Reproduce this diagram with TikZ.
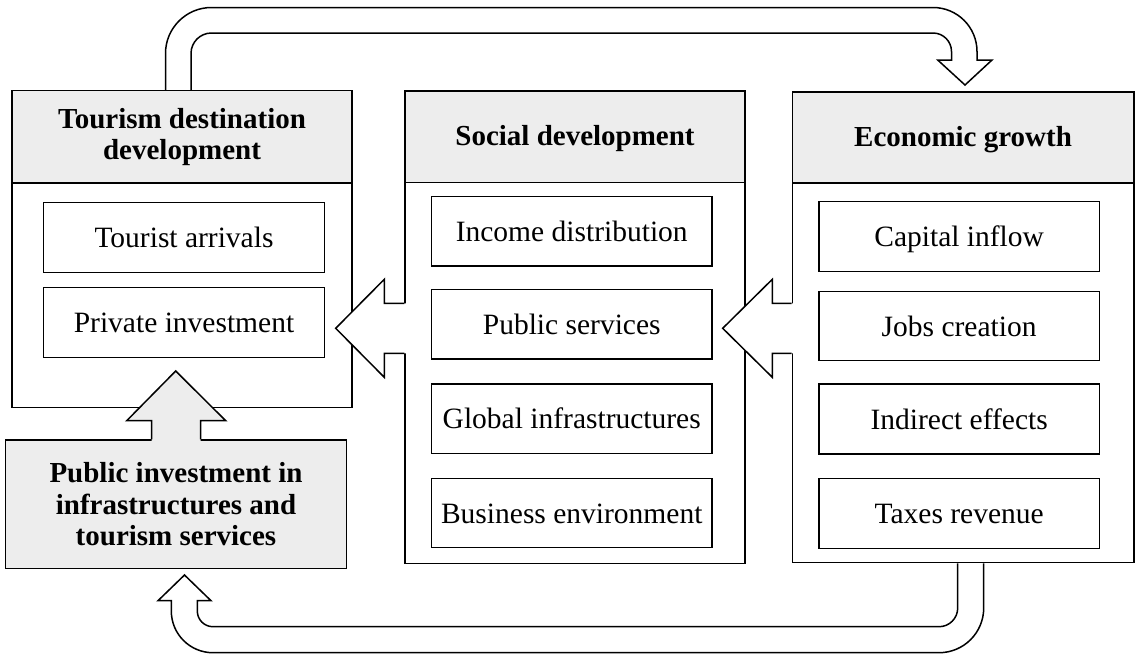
\documentclass[tikz,border=0pt]{standalone}
\usepackage{fontspec}
\setmainfont{Liberation Serif}
\definecolor{headgray}{HTML}{EDEDED}
\tikzset{
  lw/.style={line width=1.5pt},
  sz/.style 2 args={minimum width=#1pt, minimum height=#2pt},
  panel/.style={lw, draw=black, fill=white, inner sep=0pt},
  headbox/.style={lw, draw=black, fill=headgray, inner sep=0pt, align=center,
    font=\fontsize{29}{31.5}\selectfont\bfseries},
  onehead/.style={headbox, text height=18.4pt, text depth=0pt},
  itembox/.style={lw, draw=black, fill=white, inner sep=0pt,
    text height=20.4pt, text depth=0pt, font=\fontsize{29.5}{34}\selectfont},
  flowline/.style={lw, draw=black, line join=miter},
}
\begin{document}
\begin{tikzpicture}[x=1pt,y=-1pt]
\useasboundingbox (0,0) rectangle (1135,654);

% ---- tourism destination development ----
\node[panel, sz={340}{317}] (tdd) at (182,249.2) {};
\node[headbox, sz={340}{92.3}] (tddh) at (182,136.85) {Tourism destination\\development};
\node[itembox, sz={280.6}{69.6}] (arr) at (184,237.5) {Tourist arrivals};
\node[itembox, sz={280.6}{70}] (priv) at (184,322.7) {Private investment};

% ---- social development ----
\node[panel, sz={340}{472.3}] (soc) at (575,327.15) {};
\node[onehead, sz={340}{91.3}] (soch) at (575,136.65) {Social development};
\node[itembox, sz={280.5}{69.3}] (inc) at (571.75,231.35) {Income distribution};
\node[itembox, sz={280.5}{69.3}] (pubs) at (571.75,324.35) {Public services};
\node[itembox, sz={280.5}{69.3}] (glob) at (571.75,418.65) {Global infrastructures};
\node[itembox, sz={280.5}{69.4}] (bus) at (571.75,513) {Business environment};

% ---- economic growth ----
\node[panel, sz={341.5}{470.7}] (eco) at (963.05,327.35) {};
\node[onehead, sz={341.5}{91}] (ecoh) at (963.05,137.5) {Economic growth};
\node[itembox, sz={280.3}{70}] (cap) at (959.15,236.7) {Capital inflow};
\node[itembox, sz={280.3}{69}] (jobs) at (959.15,326.2) {Jobs creation};
\node[itembox, sz={280.3}{70}] (ind) at (959.15,419) {Indirect effects};
\node[itembox, sz={280.3}{70}] (tax) at (959.15,513.3) {Taxes revenue};

% ---- public investment ----
\node[headbox, sz={341.4}{128.7}] (pub) at (176,504.35) {Public investment in\\infrastructures and\\tourism services};

% ---- block arrow: social development -> tourism destination ----
\fill[white] (406.6,303.3) -- (384.3,303.3) -- (384.3,279.3) -- (335.7,328.3)
  -- (384.3,377.3) -- (384.3,353.3) -- (406.6,353.3) -- cycle;
\draw[flowline] (soc.west |- 0,303.3) -- (384.3,303.3) -- (384.3,279.3)
  -- (335.7,328.3) -- (384.3,377.3) -- (384.3,353.3) -- (soc.west |- 0,353.3);

% ---- block arrow: economic growth -> social development ----
\fill[white] (793.9,303.3) -- (772.3,303.3) -- (772.3,279.3) -- (722.7,328.3)
  -- (772.3,377.3) -- (772.3,353.3) -- (793.9,353.3) -- cycle;
\draw[flowline] (eco.west |- 0,303.3) -- (772.3,303.3) -- (772.3,279.3)
  -- (722.7,328.3) -- (772.3,377.3) -- (772.3,353.3) -- (eco.west |- 0,353.3);

% ---- block arrow: public investment -> tourism destination ----
\fill[headgray] (151.7,441.6) -- (151.7,420.7) -- (126.7,420.7) -- (175.7,371)
  -- (225.7,420.7) -- (200.7,420.7) -- (200.7,441.6) -- cycle;
\draw[flowline] (151.7,0 |- pub.north) -- (151.7,420.7) -- (126.7,420.7)
  -- (175.7,371) -- (225.7,420.7) -- (200.7,420.7) -- (200.7,0 |- pub.north);

% ---- curved arrow over the top: tourism destination -> economic growth ----
\filldraw[flowline, fill=white] (165.5,0 |- tdd.north) -- (165.5,53.5)
  arc[start angle=180, end angle=90, radius=46pt] -- (933,7.5)
  arc[start angle=90, end angle=0, radius=44pt] -- (977,60) -- (992,60)
  -- (965,85) -- (937.7,60) -- (951.5,60) -- (951.5,51.5)
  arc[start angle=0, end angle=90, radius=18.5pt] -- (211.5,33)
  arc[start angle=90, end angle=180, radius=20.5pt] -- (191,0 |- tdd.north);

% ---- curved arrow underneath: economic growth -> public investment ----
\filldraw[flowline, fill=white] (983.7,0 |- eco.south) -- (983.7,608)
  arc[start angle=0, end angle=-90, radius=44.7pt] -- (213,652.7)
  arc[start angle=-90, end angle=-180, radius=41.7pt] -- (171.3,600.7)
  -- (158,600.7) -- (184.5,575) -- (211,600.7) -- (197.3,600.7) -- (197.3,611)
  arc[start angle=180, end angle=270, radius=15.7pt] -- (939,626.7)
  arc[start angle=270, end angle=360, radius=18.7pt] -- (957.7,0 |- eco.south);
\end{tikzpicture}
\end{document}
